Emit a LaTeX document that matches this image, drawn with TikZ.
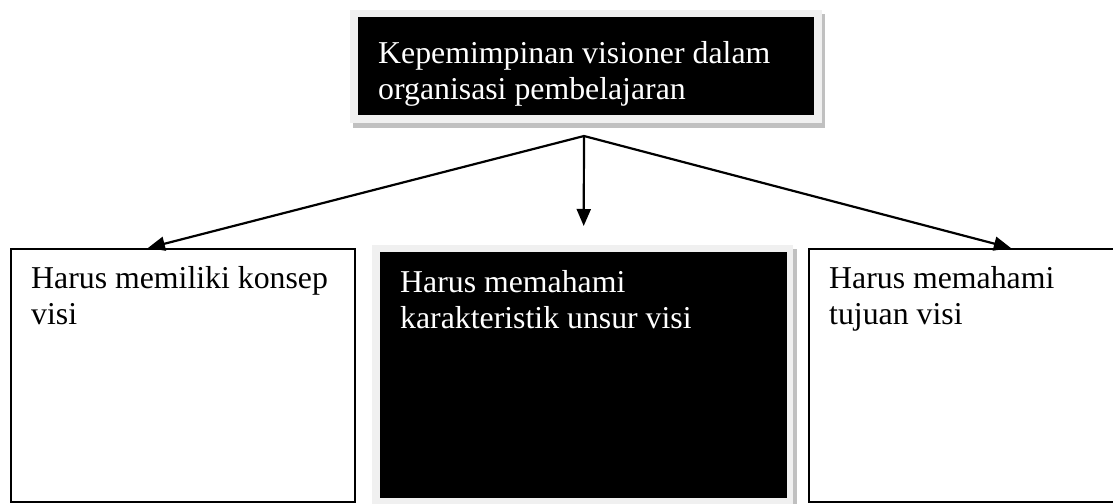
\documentclass[tikz,border=0pt]{standalone}
\usepackage{fontspec}
\setmainfont{Liberation Serif}
\usetikzlibrary{arrows.meta}
\definecolor{framegray}{HTML}{F0F0F0}
\definecolor{shadowgray}{HTML}{C0C0C0}
\begin{document}
\begin{tikzpicture}[x=1pt,y=-1pt,
  lbl/.style={anchor=north west, inner sep=0pt, align=left, font=\fontsize{31.8}{36}\selectfont},
  conn/.style={line width=2.2pt, -{Triangle[length=17pt,width=14pt]}},
  wbox/.style={draw=black, line width=1.8pt, fill=white, inner sep=0pt, anchor=north west},
  bbox/.style={fill=black, inner sep=0pt, anchor=north west},
]
\useasboundingbox (0,0) rectangle (1113,503);
% top box
\fill[shadowgray] (353,14) rectangle (825,128);
\fill[framegray] (350,10) rectangle (822,123);
\node[bbox, minimum width=456pt, minimum height=98pt] (top) at (358,17) {};
\node[lbl, text=white] (toptext) at (378,41.5) {Kepemimpinan visioner dalam\\organisasi pembelajaran};
% left box
\node[wbox, minimum width=344pt, minimum height=253pt] (lb) at (10,248) {};
\node[lbl] (lbtext) at (31,266.3) {Harus memiliki konsep\\visi};
% middle box
\fill[shadowgray] (375,249) rectangle (797,510);
\fill[framegray] (372,245) rectangle (793,510);
\node[bbox, minimum width=407pt, minimum height=246pt] (mb) at (380,252) {};
\node[lbl, text=white] (mbtext) at (400,270) {Harus memahami\\karakteristik unsur visi};
% right box
\node[wbox, minimum width=330pt, minimum height=253pt] (rb) at (808,248) {};
\node[lbl] (rbtext) at (829,266.3) {Harus memahami\\tujuan visi};
% connectors
\coordinate (hub) at (584,136);
\draw[conn] (hub) -- ([xshift=-35pt]lb.north);
\draw[conn] (hub) -- ([yshift=26pt]mb.north);
\draw[conn] (hub) -- ([xshift=37pt]rb.north);
\end{tikzpicture}
\end{document}
